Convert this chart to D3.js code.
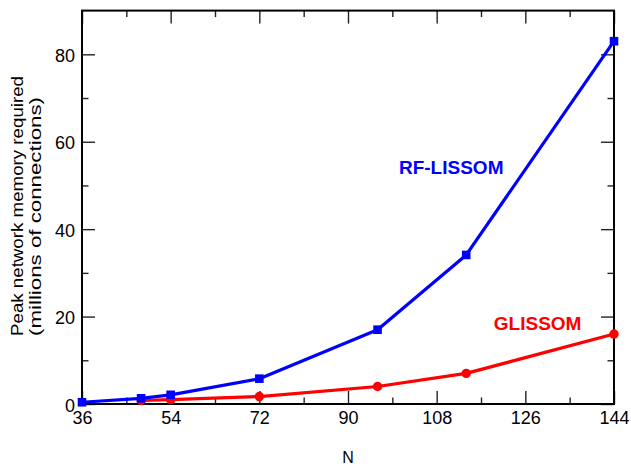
<!DOCTYPE html>
<html>
<head>
<meta charset="utf-8">
<script src="https://cdn.jsdelivr.net/npm/d3@7"></script>
<style>
  html, body { margin: 0; padding: 0; background: #fff; }
  svg { display: block; font-family: "Liberation Sans", Arial, Helvetica, sans-serif; }
</style>
</head>
<body>
<svg id="chart" width="631" height="466"></svg>
<script>
// Grid size N and peak memory (millions of connections) for each model
const rfN = [36, 48, 54, 72, 96, 114, 144];
const rfMemory = [0.4, 1.3, 2.1, 5.8, 17.0, 34.1, 83.0];
const glN = [48, 54, 72, 96, 114, 144];
const glMemory = [0.8, 1.0, 1.7, 4.0, 7.0, 16.0];

const xMajorTicks = [36, 54, 72, 90, 108, 126, 144];
const xMinorTicks = [45, 63, 81, 99, 117, 135];
const yMajorTicks = [0, 20, 40, 60, 80];
const yMinorTicks = [10, 30, 50, 70];

const seriesLabels = [
  { text: "RF-LISSOM", n: 100.35, v: 52.6, color: "#0000ff" },
  { text: "GLISSOM", n: 119.6, v: 16.9, color: "#ff0000" }
];

const svg = d3.select("#chart");
const plotLeft = 82, plotRight = 614, plotTop = 10.6, plotBottom = 404;

const x = d3.scaleLinear().domain([36, 144]).range([plotLeft, plotRight]);
const y = d3.scaleLinear().domain([0, 90]).range([plotBottom, plotTop]);

const tickColor = "#222";
const majorLen = 13, minorLen = 6.5;
const tickFont = 18;

// Axes: tick marks on all four sides, pointing inward; labels on left and bottom
function styleAxis(g) {
  g.select(".domain").remove();
  g.selectAll(".tick line").attr("stroke", tickColor).attr("stroke-width", 1.4);
}

// bottom
svg.append("g").attr("transform", `translate(0,${plotBottom})`)
  .call(d3.axisBottom(x).tickValues(xMajorTicks).tickSize(-majorLen).tickPadding(7.5).tickFormat(d3.format("d")))
  .call(styleAxis)
  .call(g => g.selectAll("text").attr("font-size", tickFont).attr("fill", "#000").attr("font-family", "Liberation Sans, Arial, sans-serif"));
svg.append("g").attr("transform", `translate(0,${plotBottom})`)
  .call(d3.axisBottom(x).tickValues(xMinorTicks).tickSize(-minorLen).tickFormat(""))
  .call(styleAxis);
// top
svg.append("g").attr("transform", `translate(0,${plotTop})`)
  .call(d3.axisTop(x).tickValues(xMajorTicks).tickSize(-majorLen).tickFormat(""))
  .call(styleAxis);
svg.append("g").attr("transform", `translate(0,${plotTop})`)
  .call(d3.axisTop(x).tickValues(xMinorTicks).tickSize(-minorLen).tickFormat(""))
  .call(styleAxis);
// left
svg.append("g").attr("transform", `translate(${plotLeft},0)`)
  .call(d3.axisLeft(y).tickValues(yMajorTicks).tickSize(-majorLen).tickPadding(7).tickFormat(d3.format("d")))
  .call(styleAxis)
  .call(g => g.selectAll("text").attr("font-size", tickFont).attr("fill", "#000").attr("dy", "0.4em").attr("font-family", "Liberation Sans, Arial, sans-serif"));
svg.append("g").attr("transform", `translate(${plotLeft},0)`)
  .call(d3.axisLeft(y).tickValues(yMinorTicks).tickSize(-minorLen).tickFormat(""))
  .call(styleAxis);
// right
svg.append("g").attr("transform", `translate(${plotRight},0)`)
  .call(d3.axisRight(y).tickValues(yMajorTicks).tickSize(-majorLen).tickFormat(""))
  .call(styleAxis);
svg.append("g").attr("transform", `translate(${plotRight},0)`)
  .call(d3.axisRight(y).tickValues(yMinorTicks).tickSize(-minorLen).tickFormat(""))
  .call(styleAxis);

// Plot frame
svg.append("rect")
  .attr("x", plotLeft).attr("y", plotTop)
  .attr("width", plotRight - plotLeft).attr("height", plotBottom - plotTop)
  .attr("fill", "none").attr("stroke", "#000").attr("stroke-width", 2);

// Series lines
const line = d3.line().x(d => x(d[0])).y(d => y(d[1]));
const glData = d3.zip(glN, glMemory);
const rfData = d3.zip(rfN, rfMemory);

svg.append("path").datum(glData).attr("d", line)
  .attr("fill", "none").attr("stroke", "#ff0000").attr("stroke-width", 3.2).attr("stroke-linejoin", "round");
svg.selectAll(".gl-pt").data(glData).enter().append("circle")
  .attr("class", "gl-pt")
  .attr("cx", d => x(d[0])).attr("cy", d => y(d[1])).attr("r", 4.7)
  .attr("fill", "#ff0000");

svg.append("path").datum(rfData).attr("d", line)
  .attr("fill", "none").attr("stroke", "#0000ff").attr("stroke-width", 3.2).attr("stroke-linejoin", "round");
const sq = 8.6;
svg.selectAll(".rf-pt").data(rfData).enter().append("rect")
  .attr("class", "rf-pt")
  .attr("x", d => x(d[0]) - sq / 2).attr("y", d => y(d[1]) - sq / 2)
  .attr("width", sq).attr("height", sq)
  .attr("fill", "#0000ff");

// Series labels
svg.selectAll(".series-label").data(seriesLabels).enter().append("text")
  .attr("class", "series-label")
  .attr("x", d => x(d.n)).attr("y", d => y(d.v))
  .attr("font-size", 19).attr("font-weight", "bold")
  .attr("fill", d => d.color)
  .text(d => d.text);

// Axis titles
svg.append("text")
  .attr("x", (plotLeft + plotRight) / 2).attr("y", 462.5)
  .attr("text-anchor", "middle").attr("font-size", 16)
  .text("N");

const yTitle = svg.append("g").attr("transform", "translate(0,336) rotate(-90)");
yTitle.append("text").attr("x", 0).attr("y", 22.5)
  .attr("font-size", 16.5)
  .attr("textLength", 260).attr("lengthAdjust", "spacingAndGlyphs")
  .text("Peak network memory required");
yTitle.append("text").attr("x", 0).attr("y", 40.5)
  .attr("font-size", 16.5)
  .attr("textLength", 239).attr("lengthAdjust", "spacingAndGlyphs")
  .text("(millions of connections)");
</script>
</body>
</html>
